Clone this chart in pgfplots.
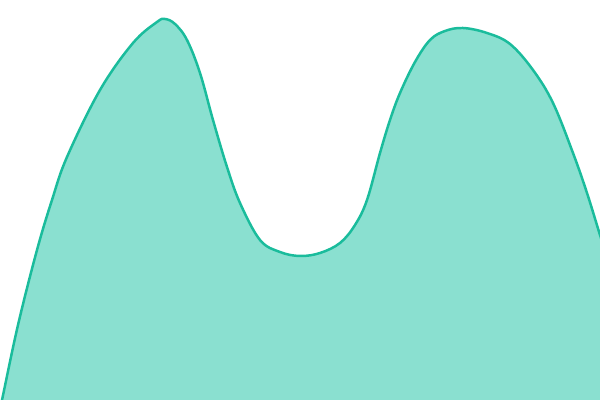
\documentclass[border=0pt]{standalone}
\usepackage{pgfplots}
\pgfplotsset{compat=1.18}
\definecolor{lineC}{RGB}{26,188,156}
\definecolor{fillC}{RGB}{138,224,208}
\pgfplotstableread{
x y
-3 -22
2 0
18 75
37 150
52 200
67 243
100 310
133 357
157 378
165 381
175 376
187 360
200 327
213 280
227 233
240 197
260 160
280 148
300 144
320 147
340 157
355 175
367 200
380 247
390 280
400 307
415 338
430 360
445 369
463 372
487 367
510 356
533 330
553 297
573 247
587 207
600 165
605 150
}\curve
\begin{document}
\begin{tikzpicture}
\begin{axis}[
  width=6in, height=4in, scale only axis,
  xmin=0, xmax=600, ymin=0, ymax=400,
  hide axis, clip=true,
]
\addplot[draw=none, fill=fillC, smooth, tension=0.6] table {\curve} |- (axis cs:-3,-30) -- cycle;
\addplot[draw=lineC, line width=1.8pt, smooth, tension=0.6] table {\curve};
\end{axis}
\pgfresetboundingbox
\useasboundingbox (current axis.south west) rectangle (current axis.north east);
\end{tikzpicture}
\end{document}
